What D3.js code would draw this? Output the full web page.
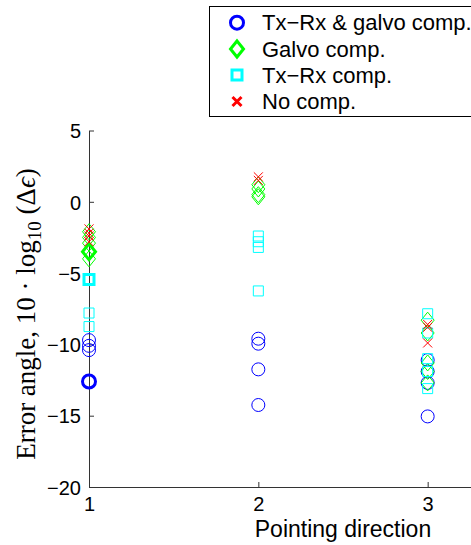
<!DOCTYPE html>
<html>
<head>
<meta charset="utf-8">
<script src="https://cdn.jsdelivr.net/npm/d3@7"></script>
<style>
  body { margin: 0; background: #fff; }
  svg { display: block; font-family: 'Liberation Sans', Arial, sans-serif; }
</style>
</head>
<body>
<svg id="chart"></svg>
<script>
// pointing directions on the x axis
let directions = [1, 2, 3]
let xTicks = [1, 2, 3]
let yTicks = [-20, -15, -10, -5, 0, 5]

// error angle values, one list per pointing direction
let bothComp = [
  [-9.7, -10.1, -10.4, -12.6, -12.6, -12.6],
  [-9.6, -9.95, -11.75, -14.25],
  [-11.1, -11.9, -12.7, -15.05]
]
let galvoComp = [
  [-2.1, -2.5, -2.9, -3.5, -3.5, -3.5, -4.0],
  [1.2, 0.9, 0.5, 0.35],
  [-8.3, -9.2, -11.3, -11.9, -12.7]
]
let txrxComp = [
  [-5.45, -5.45, -5.45, -7.8, -8.75],
  [-2.4, -2.8, -3.2, -6.25],
  [-7.85, -9.2, -11.0, -11.9, -13.1]
]
let noComp = [
  [-1.9, -2.2, -2.4, -2.8],
  [1.75, 1.5],
  [-8.6, -8.8, -9.9]
]

let seriesNames = ['Tx\u2212Rx & galvo comp.', 'Galvo comp.', 'Tx\u2212Rx comp.', 'No comp.']
let seriesData = [bothComp, galvoComp, txrxComp, noComp]
let seriesColors = ['#0000ff', '#00ff00', '#00ffff', '#ff0000']
let seriesShapes = ['circle', 'diamond', 'square', 'cross']

let width = 471
let height = 545

let svg = d3.select('#chart')
  .attr('width', width)
  .attr('height', height)

let xScale = d3.scaleLinear()
  .domain([1, 4])
  .range([89, 597])

let yScale = d3.scaleLinear()
  .domain([-20, 5])
  .range([487, 130.5])

let markerPath = (shape) => {
  if (shape === 'circle') return 'M-6.5,0A6.5,6.5 0 1,0 6.5,0A6.5,6.5 0 1,0 -6.5,0Z'
  if (shape === 'diamond') return 'M0,-8L6.5,0L0,8L-6.5,0Z'
  if (shape === 'square') return 'M-5,-5H5V5H-5Z'
  return 'M-4.5,-4.5L4.5,4.5M-4.5,4.5L4.5,-4.5'
}

// axes, MATLAB style with ticks pointing inward and no box
let xAxis = d3.axisBottom(xScale)
  .tickValues(xTicks)
  .tickSizeInner(-5)
  .tickSizeOuter(0)
  .tickPadding(10)
  .tickFormat(d3.format('d'))

let yAxis = d3.axisLeft(yScale)
  .tickValues(yTicks)
  .tickSizeInner(-5)
  .tickSizeOuter(0)
  .tickPadding(8)
  .tickFormat((d) => d < 0 ? '\u2212' + Math.abs(d) : d)

let gx = svg.append('g')
  .attr('transform', 'translate(0,' + yScale(-20) + ')')
  .call(xAxis)
gx.select('.domain').attr('stroke', '#333')
gx.selectAll('.tick line').attr('stroke', '#333')
gx.selectAll('.tick text')
  .attr('font-size', 20)
  .attr('font-family', 'Liberation Sans, Arial, sans-serif')
  .attr('fill', '#000')

let gy = svg.append('g')
  .attr('transform', 'translate(' + xScale(1) + ',0)')
  .call(yAxis)
gy.select('.domain').attr('stroke', '#333')
gy.selectAll('.tick line').attr('stroke', '#333')
gy.selectAll('.tick text')
  .attr('font-size', 20)
  .attr('font-family', 'Liberation Sans, Arial, sans-serif')
  .attr('fill', '#000')
  .attr('dy', '0.36em')

// markers; repeated values stack up and look heavier
seriesData.forEach((series, s) => {
  let g = svg.append('g')
  series.forEach((vals, i) => {
    let counts = d3.rollup(vals, (v) => v.length, (v) => v)
    Array.from(counts).forEach(([v, n]) => {
      g.append('path')
        .attr('d', markerPath(seriesShapes[s]))
        .attr('transform', 'translate(' + xScale(directions[i]) + ',' + yScale(v) + ')')
        .attr('fill', 'none')
        .attr('stroke', seriesColors[s])
        .attr('stroke-width', n > 1 ? 3 : 1)
    })
  })
})

// axis titles
svg.append('text')
  .attr('x', xScale(2.5))
  .attr('y', 537)
  .attr('text-anchor', 'middle')
  .attr('font-size', 23)
  .text('Pointing direction')

let ylab = svg.append('text')
  .attr('transform', 'translate(35,314) rotate(-90)')
  .attr('text-anchor', 'middle')
  .attr('font-family', 'Liberation Serif, Times New Roman, serif')
  .attr('font-size', 27)
ylab.append('tspan').text('Error angle, 10 \u00b7 log')
ylab.append('tspan').attr('font-size', 19).attr('dy', 6).text('10')
ylab.append('tspan').attr('dy', -6).text(' (\u0394')
ylab.append('tspan').attr('font-style', 'italic').text('\u03f5')
ylab.append('tspan').text(')')

// legend
let legend = svg.append('g')
legend.append('rect')
  .attr('x', 209.5)
  .attr('y', 6.5)
  .attr('width', 270)
  .attr('height', 110)
  .attr('fill', '#fff')
  .attr('stroke', '#000')
  .attr('stroke-width', 1)

let rowY = [22.7, 49, 75, 101.5]
seriesNames.forEach((name, s) => {
  legend.append('path')
    .attr('d', markerPath(seriesShapes[s]))
    .attr('transform', 'translate(237,' + rowY[s] + ')')
    .attr('fill', 'none')
    .attr('stroke', seriesColors[s])
    .attr('stroke-width', 3)
  legend.append('text')
    .attr('x', 262)
    .attr('y', rowY[s] + 7.5)
    .attr('font-size', 22)
    .text(name)
})
</script>
</body>
</html>
